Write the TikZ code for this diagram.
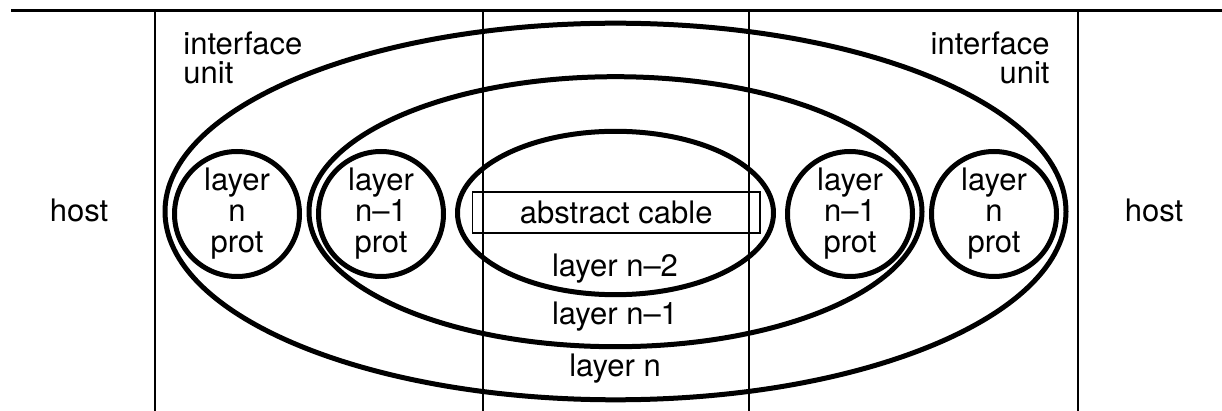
\documentclass[tikz,border=0pt]{standalone}
\usepackage{fontspec}
\setmainfont{TeX Gyre Heros}
\usetikzlibrary{shapes.geometric}
\tikzset{
    layer/.style={draw, ellipse, line width=2.5pt, inner sep=0pt},
    prot/.style={draw, circle, line width=2.5pt, minimum size=62.5pt, inner sep=0pt,
        align=center, font=\fontsize{15.5}{15.5}\selectfont},
    lbl/.style={inner sep=0pt, font=\fontsize{15.5}{14.5}\selectfont},
}

\begin{document}
\begin{tikzpicture}[x=0.5pt,y=-0.5pt]
\useasboundingbox (0,0) rectangle (1222,411);
\draw[line width=1.5pt] (11,11) -- (1222,11);
\foreach \x in {155,483,749,1078}
    \draw[line width=1pt] (\x,11) -- (\x,411);
\node[layer, minimum width=450.5pt, minimum height=188.3pt] (layn) at (615.5,211.5) {};
\node[layer, minimum width=306.5pt, minimum height=135pt] (laynm) at (615.5,211.7) {};
\node[layer, minimum width=158pt, minimum height=81.7pt] (laynmm) at (615.5,213) {};
\node[draw, line width=0.9pt, minimum width=143.8pt, minimum height=20.8pt, lbl] (cable) at (616.2,212.5) {abstract cable};
\node[prot] (pnl) at (237,214) {layer\\n\\prot};
\node[prot] (pnml) at (381,214) {layer\\n--1\\prot};
\node[prot] (pnmr) at (850,214) {layer\\n--1\\prot};
\node[prot] (pnr) at (994,214) {layer\\n\\prot};
\node[lbl, anchor=base] (tnmm) at (615,276.7) {layer n--2};
\node[lbl, anchor=base] (tnm) at (615,325) {layer n--1};
\node[lbl, anchor=base] (tn) at (615,376.7) {layer n};
\node[lbl, anchor=base] (hostl) at (79,221.7) {host};
\node[lbl, anchor=base] (hostr) at (1154,221.7) {host};
\node[lbl, align=left, anchor=north west] (ifl) at (183,31) {interface\\unit};
\node[lbl, align=right, anchor=north east] (ifr) at (1050,31) {interface\\unit};
\end{tikzpicture}
\end{document}
